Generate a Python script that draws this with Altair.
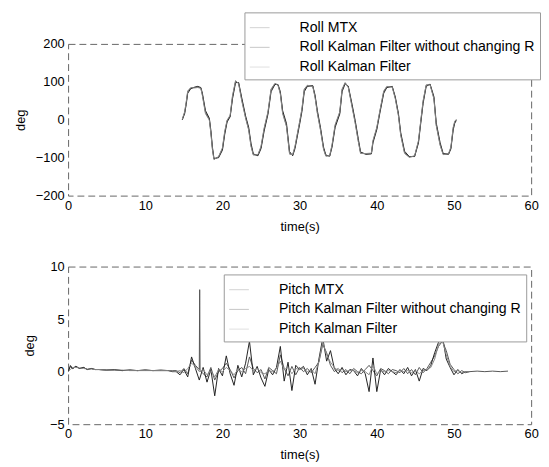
import altair as alt
import pandas as pd

# ---------------- Roll panel data ----------------
roll_t = [14.8, 15.1, 15.3, 15.5, 15.9, 16.4, 16.8, 17.2, 17.4, 17.8,
          18.3, 18.5, 18.7, 18.9, 19.5, 20.0, 20.3, 20.6, 21.0, 21.3,
          21.7, 22.1, 22.5, 23.0, 23.4, 23.7, 24.0, 24.6, 25.0, 25.4,
          25.9, 26.3, 26.8, 27.2, 27.5, 27.8, 28.3, 28.7, 29.1, 29.4,
          30.0, 30.3, 30.6, 31.0, 31.7, 32.0, 32.3, 32.7, 33.1, 33.4,
          33.9, 34.2, 34.6, 35.2, 35.5, 35.9, 36.3, 36.8, 37.2, 37.6,
          37.9, 38.6, 39.3, 39.5, 40.0, 40.4, 40.9, 41.3, 42.0, 42.4,
          42.8, 43.1, 43.6, 44.2, 44.9, 45.4, 45.7, 46.0, 46.4, 46.9,
          47.4, 47.7, 48.2, 48.6, 49.3, 49.6, 49.9, 50.1, 50.3]
roll_mtx = [1, 19, 44, 74, 84, 85, 86, 84, 66, 19,
            1, -33, -76, -104, -98, -76, -33, -3, 10, 60,
            102, 96, 53, 6, -25, -68, -92, -93, -72, -25,
            19, 79, 95, 92, 70, 19, -16, -89, -93, -72,
            -7, 27, 79, 90, 89, 61, 19, -25, -76, -95,
            -95, -68, -16, 19, 79, 97, 87, 36, -7, -55,
            -88, -90, -89, -57, -22, 22, 74, 87, 87, 57,
            13, -39, -87, -98, -96, -57, -4, 48, 91, 93,
            57, -13, -65, -91, -90, -74, -22, -6, 0]
roll_kf_noR = [0, 16, 40, 70, 82, 86, 88, 85, 70, 24,
               4, -28, -72, -102, -100, -80, -38, -6, 8, 55,
               98, 98, 58, 10, -20, -62, -90, -95, -76, -30,
               15, 74, 93, 93, 74, 24, -10, -84, -95, -76,
               -12, 22, 74, 88, 90, 65, 24, -20, -72, -93,
               -96, -72, -20, 15, 74, 95, 89, 40, -2, -50,
               -85, -91, -90, -61, -26, 18, 70, 85, 88, 60,
               17, -34, -83, -97, -97, -61, -8, 43, 88, 94,
               61, -8, -60, -89, -91, -77, -27, -9, -2]
roll_kf = [2, 21, 46, 76, 85, 84, 85, 83, 64, 16,
           -1, -35, -78, -105, -97, -74, -30, -1, 12, 63,
           103, 95, 50, 4, -27, -70, -93, -92, -70, -22,
           21, 81, 96, 91, 68, 16, -18, -91, -92, -70,
           -5, 29, 81, 91, 88, 59, 17, -27, -78, -96,
           -94, -66, -13, 21, 81, 98, 86, 33, -9, -57,
           -89, -89, -88, -55, -20, 24, 76, 88, 86, 55,
           11, -41, -89, -99, -95, -55, -2, 50, 92, 92,
           55, -15, -67, -92, -89, -72, -20, -4, 1]

# ---------------- Pitch panel data ----------------
pitch_t = [0.0, 0.3, 0.6, 1.0, 1.5, 2.0, 2.5, 3.0, 3.5, 4.0,
           5.0, 6.0, 7.0, 8.0, 9.0, 10.0, 11.0, 12.0, 13.0, 13.5,
           14.0, 14.5, 15.0, 15.5, 16.0, 16.5, 17.0, 17.5, 18.0, 18.5,
           19.0, 19.5, 20.0, 20.5, 21.0, 21.5, 22.0, 22.5, 23.0, 23.5,
           24.0, 24.5, 25.0, 25.5, 26.0, 26.5, 27.0, 27.5, 28.0, 28.5,
           29.0, 29.5, 30.0, 30.5, 31.0, 31.5, 32.0, 32.5, 33.0, 33.5,
           34.0, 34.5, 35.0, 35.5, 36.0, 36.5, 37.0, 37.5, 38.0, 38.5,
           39.0, 39.5, 40.0, 40.5, 41.0, 41.5, 42.0, 42.5, 43.0, 43.5,
           44.0, 44.5, 45.0, 45.5, 46.0, 46.5, 47.0, 47.5, 48.0, 48.5,
           49.0, 49.5, 50.0, 50.5, 51.0, 51.5, 52.0]
pitch_kf_noR = [0.0, 0.5, 0.3, 0.5, 0.3, 0.4, 0.2, 0.3, 0.2, 0.2,
                0.15, 0.2, 0.1, 0.15, 0.1, 0.15, 0.1, 0.15, 0.1, 0.0,
                0.0, -0.3, 0.2, -0.5, 1.4, 0.3, -0.8, 0.4, -1.0, 0.2,
                -2.3, 0.3, -0.4, 1.5, -0.2, -1.3, 0.6, -0.5, 0.8, 2.9,
                -0.3, 0.5, -0.6, -1.4, 0.2, -0.3, 0.4, 2.4, -0.9, 0.9,
                -1.8, 0.6, 0.2, 0.5, -0.3, 0.3, -1.2, 1.2, 3.2, 1.0,
                2.0, 0.3, -0.2, 0.4, -0.3, 0.2, 0.1, -0.4, 0.3, -0.2,
                -1.9, 1.3, -1.9, 0.2, -0.3, 0.3, 0.0, -0.3, 0.2, -0.2,
                0.4, -0.4, 0.2, -0.9, 0.3, 0.1, 0.6, 1.8, 2.8, 3.4,
                1.2, 0.4, -0.3, 0.2, -0.2, 0.0, 0.0]
pitch_kf = [0.0, 0.2, 0.4, 0.4, 0.35, 0.3, 0.25, 0.25, 0.2, 0.2,
            0.15, 0.15, 0.15, 0.1, 0.1, 0.1, 0.1, 0.1, 0.1, 0.05,
            0.0, 0.1, -0.1, 0.3, 0.8, 0.5, 0.0, 0.2, -0.3, 0.1,
            -0.5, 0.2, 0.0, 0.4, 0.1, -0.3, 0.2, 0.0, 0.3, 0.5,
            0.1, 0.3, -0.1, -0.2, 0.1, 0.0, 0.3, 1.0, 0.2, 0.4,
            -0.2, 0.3, 0.2, 0.3, 0.0, 0.2, -0.2, 1.0, 2.8, 1.6,
            0.9, 0.4, 0.1, 0.2, 0.0, 0.1, 0.1, -0.1, 0.1, 0.0,
            -0.3, 0.6, -0.2, 0.1, 0.0, 0.1, 0.0, -0.1, 0.1, 0.0,
            0.1, -0.1, 0.1, -0.2, 0.1, 0.2, 0.4, 1.2, 2.6, 3.0,
            1.6, 0.5, 0.0, 0.1, -0.1, 0.0, 0.0]
pitch_mtx_t = [0.0, 0.3, 0.6, 1.0, 1.5, 2.0, 2.5, 3.0, 3.5, 4.0,
               5.0, 6.0, 7.0, 8.0, 9.0, 10.0, 11.0, 12.0, 13.0, 13.5,
               14.0, 14.5, 15.0, 15.5, 16.0, 16.5, 17.0, 17.05, 17.1, 17.5,
               18.0, 18.5, 19.0, 19.5, 20.0, 20.5, 21.0, 21.5, 22.0, 22.5,
               23.0, 23.5, 24.0, 24.5, 25.0, 25.5, 26.0, 26.5, 27.0, 27.5,
               28.0, 28.5, 29.0, 29.5, 30.0, 30.5, 31.0, 31.5, 32.0, 32.5,
               33.0, 33.5, 34.0, 34.5, 35.0, 35.5, 36.0, 36.5, 37.0, 37.5,
               38.0, 38.5, 39.0, 39.5, 40.0, 40.5, 41.0, 41.5, 42.0, 42.5,
               43.0, 43.5, 44.0, 44.5, 45.0, 45.5, 46.0, 46.5, 47.0, 47.5,
               48.0, 48.5, 49.0, 49.5, 50.0, 50.5, 51.0, 51.5, 52.0, 53.0,
               54.0, 55.0, 56.0, 57.0]
pitch_mtx = [0.0, 0.6, 0.3, 0.5, 0.3, 0.4, 0.2, 0.3, 0.2, 0.2,
             0.15, 0.15, 0.1, 0.15, 0.1, 0.15, 0.1, 0.1, 0.1, 0.1,
             0.1, -0.1, 0.3, -0.2, 1.1, 0.6, 0.2, 7.8, 0.1, -0.2,
             -0.5, 0.4, -0.8, 0.0, 0.3, 0.8, 0.2, -0.6, 0.1, 0.4,
             -0.2, 1.4, 0.3, -0.1, 0.2, -0.7, 0.4, 0.1, -0.2, 1.6,
             0.3, -0.4, 0.5, -0.3, 0.4, 0.0, 0.3, -0.1, 0.4, 0.9,
             2.6, 1.8, 0.6, 0.0, 0.3, -0.1, 0.2, -0.2, 0.3, 0.0,
             -0.2, 0.2, 0.6, 0.1, -0.4, 0.3, 0.1, -0.2, 0.2, 0.1,
             -0.1, 0.3, -0.2, 0.2, -0.3, 0.4, -0.1, 0.3, 0.9, 1.5,
             2.4, 2.9, 2.0, 0.7, 0.2, -0.2, 0.1, -0.1, 0.0, 0.05,
             0.0, 0.05, 0.0, 0.05]

roll_names = ["Roll MTX", "Roll Kalman Filter without changing R", "Roll Kalman Filter"]
pitch_names = ["Pitch MTX", "Pitch Kalman Filter without changing R", "Pitch Kalman Filter"]
line_colors = ["#555555", "#222222", "#888888"]
x_ticks = [0, 10, 20, 30, 40, 50, 60]
roll_ticks = [-200, -100, 0, 100, 200]
pitch_ticks = [-5, 0, 5, 10]

assert len(roll_t) == len(roll_mtx) == len(roll_kf_noR) == len(roll_kf)
assert len(pitch_t) == len(pitch_kf_noR) == len(pitch_kf)
assert len(pitch_mtx_t) == len(pitch_mtx)


def long_form(pairs):
    frames = []
    for name, ts, vs in pairs:
        frames.append(pd.DataFrame({"t": ts, "v": vs, "series": name}))
    return pd.concat(frames, ignore_index=True)


roll_df = long_form([(roll_names[0], roll_t, roll_mtx),
                     (roll_names[1], roll_t, roll_kf_noR),
                     (roll_names[2], roll_t, roll_kf)])
pitch_df = long_form([(pitch_names[0], pitch_mtx_t, pitch_mtx),
                      (pitch_names[1], pitch_t, pitch_kf_noR),
                      (pitch_names[2], pitch_t, pitch_kf)])

FONT = "Liberation Sans"


def panel(df, names, ydom, yvals, h, lx, ly, ytitle_pad):
    return alt.Chart(df).mark_line(strokeWidth=1, clip=True).encode(
        x=alt.X("t:Q",
                scale=alt.Scale(domain=[0, 60], nice=False, zero=False),
                axis=alt.Axis(values=x_ticks, title="time(s)", format="d",
                              titlePadding=8)),
        y=alt.Y("v:Q",
                scale=alt.Scale(domain=ydom, nice=False, zero=False),
                axis=alt.Axis(values=yvals, title="deg", format="d",
                              titlePadding=ytitle_pad)),
        color=alt.Color("series:N",
                        scale=alt.Scale(domain=names, range=line_colors),
                        legend=alt.Legend(title=None, orient="none",
                                          legendX=lx, legendY=ly,
                                          symbolType="stroke", symbolSize=400,
                                          symbolStrokeWidth=1, symbolOpacity=0.25,
                                          labelFont=FONT, labelFontSize=14.3,
                                          labelColor="#000000", labelLimit=400,
                                          labelOffset=30, rowPadding=2,
                                          padding=5, fillColor="white",
                                          strokeColor="#999999")),
        order=alt.Order("t:Q"),
    ).properties(width=470, height=h)


top = panel(roll_df, roll_names, [-200, 200], roll_ticks, 154, 179, -32, 8)
bottom = panel(pitch_df, pitch_names, [-5, 10], pitch_ticks, 160, 158, 8, 13)

chart = alt.vconcat(top, bottom, spacing=26).resolve_scale(
    color="independent").resolve_legend(color="independent").properties(
    padding={"left": 6, "top": 0, "right": 0, "bottom": 0},
    background="white",
).configure_view(
    stroke="#666666", strokeWidth=1, strokeDash=[7, 4]
).configure_axis(
    grid=False, ticks=False, domain=False,
    labelFont=FONT, labelFontSize=13, labelColor="#000000",
    titleFont=FONT, titleFontSize=13, titleFontWeight="normal", titleColor="#000000",
    labelPadding=4, labelOverlap=False, labelFlush=False,
)

chart.save("out.html", embed_options={"renderer": "svg", "actions": False})
